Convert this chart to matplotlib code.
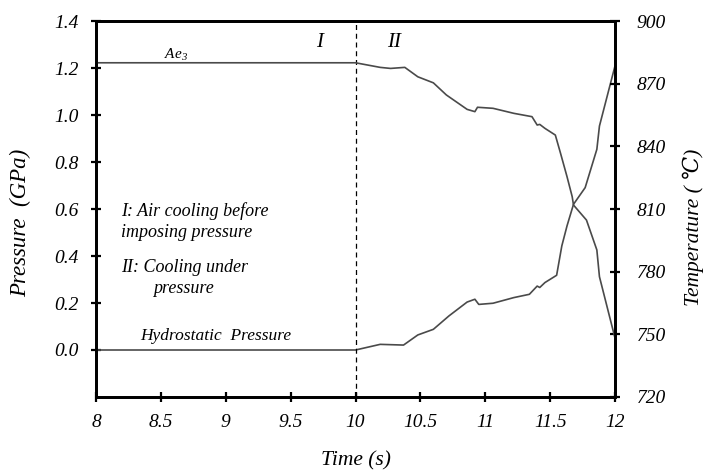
import matplotlib
matplotlib.use("Agg")
import matplotlib.pyplot as plt

plt.rcParams['font.family'] = ['Liberation Serif', 'DejaVu Serif']
plt.rcParams['font.style'] = 'italic'
plt.rcParams['mathtext.fontset'] = 'custom'
plt.rcParams['mathtext.it'] = 'Liberation Serif:italic'
plt.rcParams['mathtext.rm'] = 'Liberation Serif:italic'

# temperature curve (right axis)
temp_time = [8.0, 10.0, 10.19, 10.27, 10.38, 10.48, 10.60, 10.70, 10.86, 10.92, 10.94,
             11.06, 11.22, 11.36, 11.40, 11.42, 11.46, 11.54, 11.58, 11.63, 11.67,
             11.68, 11.78, 11.86, 11.88, 12.0]
temp_vals = [880.0, 880.0, 877.8, 877.3, 877.8, 873.3, 870.4, 864.6, 857.7, 856.6, 858.7,
             858.2, 855.8, 854.2, 850.2, 850.5, 848.6, 845.4, 836.7, 825.5, 815.9,
             811.9, 804.7, 790.4, 777.6, 748.2]

# hydrostatic pressure curve (left axis)
pres_time = [8.0, 10.0, 10.19, 10.37, 10.48, 10.60, 10.72, 10.86, 10.92, 10.95, 11.06,
             11.22, 11.34, 11.40, 11.42, 11.46, 11.55, 11.59, 11.63, 11.68, 11.77,
             11.86, 11.88, 12.0]
pres_vals = [0.0, 0.0, 0.024, 0.021, 0.064, 0.088, 0.145, 0.204, 0.216, 0.194, 0.199,
             0.223, 0.237, 0.272, 0.266, 0.287, 0.318, 0.443, 0.528, 0.620, 0.691,
             0.854, 0.953, 1.209]

x_ticks = [8, 8.5, 9, 9.5, 10, 10.5, 11, 11.5, 12]
x_labels = ['8', '8.5', '9', '9.5', '10', '10.5', '11', '11.5', '12']
p_ticks = [0.0, 0.2, 0.4, 0.6, 0.8, 1.0, 1.2, 1.4]
t_ticks = [720, 750, 780, 810, 840, 870, 900]

fig = plt.figure(figsize=(7.04, 4.72), dpi=100)
ax = fig.add_axes([0.1364, 0.1589, 0.7372, 0.7966])
ax2 = ax.twinx()

curve_col = '#4a4a4a'
ax.plot(pres_time, pres_vals, color=curve_col, lw=1.2)
ax2.plot(temp_time, temp_vals, color=curve_col, lw=1.2)
ax.axvline(10, color='black', lw=0.9, ls=(0, (4, 3)))

ax.set_xlim(8, 12)
ax.set_ylim(-0.2, 1.4)
ax2.set_ylim(720, 900)
ax.set_xticks(x_ticks)
ax.set_xticklabels(x_labels)
ax.set_yticks(p_ticks)
ax.set_yticklabels(['%.1f' % v for v in p_ticks])
ax2.set_yticks(t_ticks)

for a in (ax, ax2):
    for s in a.spines.values():
        s.set_linewidth(2)
    a.tick_params(direction='inout', length=7, width=1.6, labelsize=14, pad=9)
ax2.tick_params(pad=12)

ax.set_xlabel('Time (s)', fontsize=15.5, labelpad=14)
ax.set_ylabel('Pressure  (GPa)', fontsize=16.5)
ax.yaxis.set_label_coords(-0.125, 0.463)
ax2.set_ylabel('Temperature ( \u2103)', fontsize=15.5)
ax2.yaxis.set_label_coords(1.13, 0.45)

ax.text(9.72, 1.31, 'I', fontsize=15, ha='center', va='center')
ax.text(10.3, 1.31, 'II', fontsize=15, ha='center', va='center')
ax.text(8.62, 1.255, 'Ae$_3$', fontsize=11, ha='center', va='center')
ax.text(8.19, 0.59, 'I: Air cooling before', fontsize=13, ha='left', va='center')
ax.text(8.19, 0.50, 'imposing pressure', fontsize=13, ha='left', va='center')
ax.text(8.19, 0.35, 'II: Cooling under', fontsize=13, ha='left', va='center')
ax.text(8.44, 0.26, 'pressure', fontsize=13, ha='left', va='center')
ax.text(8.34, 0.06, 'Hydrostatic  Pressure', fontsize=12.5, ha='left', va='center')

fig.savefig('out.png', dpi=100)
